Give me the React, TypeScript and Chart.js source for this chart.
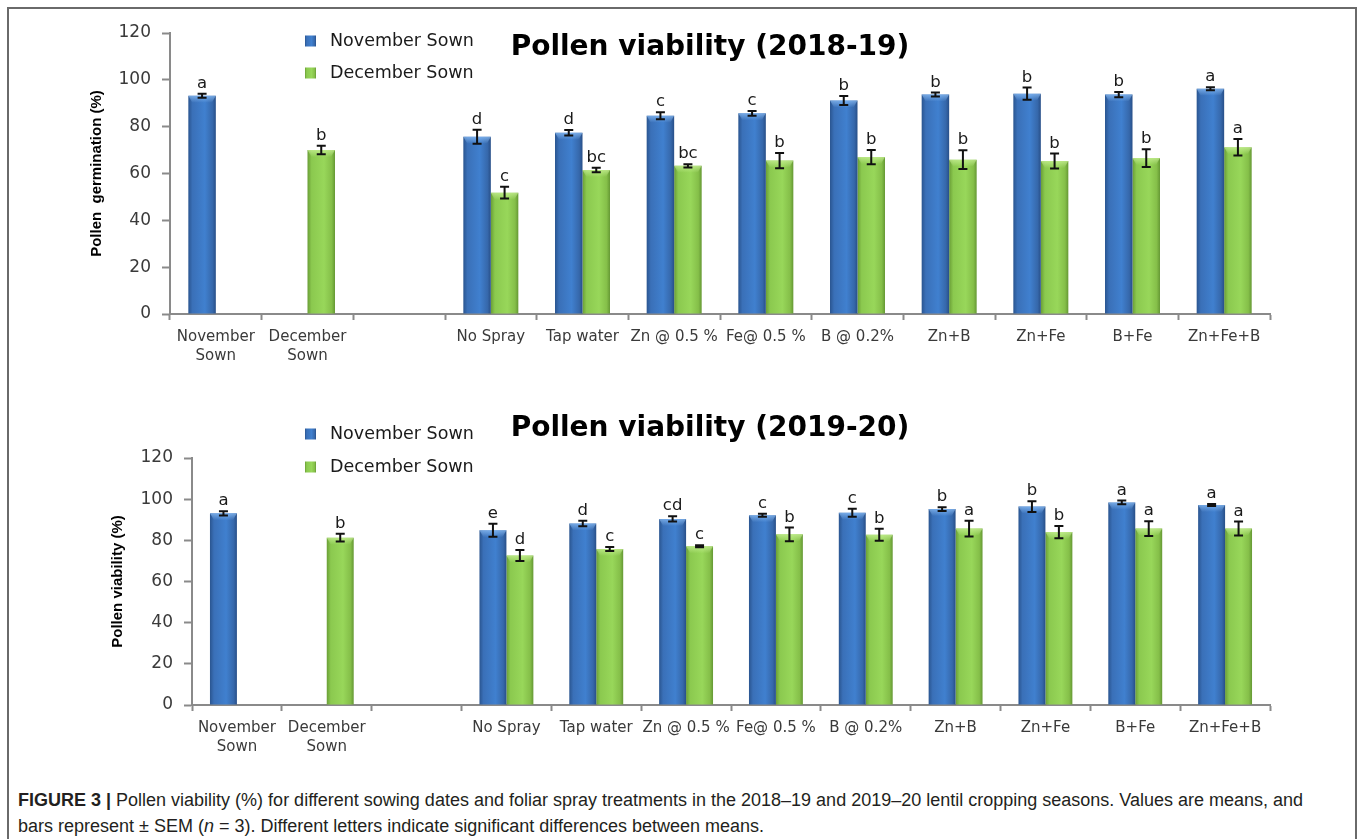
import React, { useEffect, useRef } from "react";
import { Chart, registerables } from "chart.js";

Chart.register(...registerables);

// ---------- data ----------
const categories: (string | string[])[] = [
  ["November", "Sown"],
  ["December", "Sown"],
  "",
  "No Spray",
  "Tap water",
  "Zn @ 0.5 %",
  "Fe@ 0.5 %",
  "B @ 0.2%",
  "Zn+B",
  "Zn+Fe",
  "B+Fe",
  "Zn+Fe+B",
];
const seriesNames = ["November Sown", "December Sown"];

const nov1819 = [93.2, null, null, 75.7, 77.4, 84.7, 85.7, 91.2, 93.7, 94.1, 93.7, 96.2];
const nov1819Err = [0.9, 0, 0, 3.0, 1.2, 1.5, 1.0, 1.9, 0.85, 2.6, 1.1, 0.6];
const nov1819Letters = ["a", "", "", "d", "d", "c", "c", "b", "b", "b", "b", "a"];
const dec1819 = [null, 70.0, null, 51.8, 61.5, 63.3, 65.5, 67.0, 65.9, 65.3, 66.6, 71.2];
const dec1819Err = [0, 1.8, 0, 2.5, 1.0, 0.7, 3.3, 3.0, 4.0, 3.2, 3.8, 3.5];
const dec1819Letters = ["", "b", "", "c", "bc", "bc", "b", "b", "b", "b", "b", "a"];

const nov1920 = [93.1, null, null, 84.9, 88.2, 90.4, 92.2, 93.4, 95.2, 96.4, 98.4, 97.2];
const nov1920Err = [1.0, 0, 0, 3.1, 1.3, 1.3, 0.7, 1.9, 0.9, 2.6, 0.9, 0.5];
const nov1920Letters = ["a", "", "", "e", "d", "cd", "c", "c", "b", "b", "a", "a"];
const dec1920 = [null, 81.3, null, 72.6, 75.8, 77.1, 82.9, 82.7, 85.7, 84.0, 85.7, 85.7];
const dec1920Err = [0, 1.9, 0, 2.7, 1.0, 0.5, 3.3, 2.9, 3.8, 3.0, 3.6, 3.4];
const dec1920Letters = ["", "b", "", "d", "c", "c", "b", "b", "a", "b", "a", "a"];

const yTicksMin = 0;
const yTicksMax = 120;
const yTicksStep = 20;

// ---------- styles ----------
const CAT_PCT = 0.6;
const BLUE_STOPS: [number, string][] = [
  [0, "#2a5590"],
  [0.15, "#3a70b8"],
  [0.6, "#4080cf"],
  [0.88, "#3668ab"],
  [1, "#284f88"],
];
const GREEN_STOPS: [number, string][] = [
  [0, "#6a9e36"],
  [0.15, "#8bc94f"],
  [0.6, "#98d75a"],
  [0.88, "#85bf49"],
  [1, "#659834"],
];
const AXIS_GREY = "#8a8a8a";
const TEXT_GREY = "#3a3a3a";
const SANS = '"DejaVu Sans", Verdana, sans-serif';

function barGradient(ctx: any, stops: [number, string][], dsIndex: number) {
  const chart = ctx.chart;
  const area = chart.chartArea;
  const xs = chart.scales && chart.scales.x;
  if (!area || !xs || ctx.type !== "data") return stops[2][1];
  const center = xs.getPixelForValue(ctx.dataIndex);
  const catW = (area.right - area.left) / categories.length;
  const barW = (catW * CAT_PCT) / 2;
  const left = dsIndex === 0 ? center - barW : center;
  const g = chart.ctx.createLinearGradient(left, 0, left + barW, 0);
  stops.forEach(([o, c]) => g.addColorStop(o, c));
  return g;
}

function legendGradient(ctx: CanvasRenderingContext2D, x: number, w: number, stops: [number, string][]) {
  const g = ctx.createLinearGradient(x, 0, x + w, 0);
  stops.forEach(([o, c]) => g.addColorStop(o, c));
  return g;
}

type PanelProps = {
  top: number;
  height: number;
  padLeft: number;
  padTop: number;
  padBottom: number;
  yWidth: number;
  yTitle: string;
  title: string;
  titleY: number;
  legendY: [number, number];
  nov: (number | null)[];
  novErr: number[];
  novLetters: string[];
  dec: (number | null)[];
  decErr: number[];
  decLetters: string[];
};

function Panel(p: PanelProps) {
  const ref = useRef<HTMLCanvasElement | null>(null);
  useEffect(() => {
    if (!ref.current) return;
    const errs = [p.novErr, p.decErr];
    const letters = [p.novLetters, p.decLetters];
    const overlay = {
      id: "overlay",
      afterDatasetsDraw(chart: any) {
        const ctx: CanvasRenderingContext2D = chart.ctx;
        const ys = chart.scales.y;
        ctx.save();
        [0, 1].forEach((di) => {
          const meta = chart.getDatasetMeta(di);
          const values = chart.data.datasets[di].data as (number | null)[];
          meta.data.forEach((el: any, j: number) => {
            const v = values[j];
            if (v === null || v === undefined) return;
            // light bevel on the bar top
            const half = el.width / 2;
            const capG = ctx.createLinearGradient(0, el.y, 0, el.y + 7);
            capG.addColorStop(0, di === 0 ? "rgba(140,190,245,0.75)" : "rgba(200,240,150,0.75)");
            capG.addColorStop(1, di === 0 ? "rgba(140,190,245,0)" : "rgba(200,240,150,0)");
            ctx.fillStyle = capG;
            ctx.beginPath();
            ctx.moveTo(el.x - half, el.y);
            ctx.lineTo(el.x + half, el.y);
            ctx.lineTo(el.x + half - 4, el.y + 7);
            ctx.lineTo(el.x - half + 4, el.y + 7);
            ctx.closePath();
            ctx.fill();

            const e = errs[di][j];
            const yTop = ys.getPixelForValue(v + e);
            const yBot = ys.getPixelForValue(v - e);
            const x = el.x;
            ctx.strokeStyle = "#111";
            ctx.lineWidth = 2;
            ctx.beginPath();
            ctx.moveTo(x, yTop);
            ctx.lineTo(x, yBot);
            ctx.moveTo(x - 4.5, yTop);
            ctx.lineTo(x + 4.5, yTop);
            ctx.moveTo(x - 4.5, yBot);
            ctx.lineTo(x + 4.5, yBot);
            ctx.stroke();
            const lt = letters[di][j];
            if (lt) {
              ctx.fillStyle = "#1a1a1a";
              ctx.font = `16.5px ${SANS}`;
              ctx.textAlign = "center";
              ctx.textBaseline = "alphabetic";
              ctx.fillText(lt, x, yTop - 6);
            }
          });
        });
        ctx.restore();
      },
      afterDraw(chart: any) {
        const ctx: CanvasRenderingContext2D = chart.ctx;
        ctx.save();
        // title
        ctx.fillStyle = "#000";
        ctx.font = 'bold 28px "DejaVu Sans", Verdana, sans-serif';
        ctx.textAlign = "center";
        ctx.textBaseline = "middle";
        ctx.fillText(p.title, 710, p.titleY);
        // legend
        const stopsArr = [BLUE_STOPS, GREEN_STOPS];
        seriesNames.forEach((name, i) => {
          const y = p.legendY[i];
          ctx.fillStyle = legendGradient(ctx, 305, 11, stopsArr[i]);
          ctx.fillRect(305, y - 5.5, 11, 11);
          ctx.fillStyle = "#1a1a1a";
          ctx.font = `17.5px ${SANS}`;
          ctx.textAlign = "left";
          ctx.textBaseline = "middle";
          ctx.fillText(name, 330, y);
        });
        ctx.restore();
      },
    };
    const chart = new Chart(ref.current, {
      type: "bar",
      data: {
        labels: categories,
        datasets: [
          {
            label: seriesNames[0],
            data: p.nov,
            backgroundColor: (c: any) => barGradient(c, BLUE_STOPS, 0),
            borderWidth: 0,
            categoryPercentage: CAT_PCT,
            barPercentage: 1.0,
          },
          {
            label: seriesNames[1],
            data: p.dec,
            backgroundColor: (c: any) => barGradient(c, GREEN_STOPS, 1),
            borderWidth: 0,
            categoryPercentage: CAT_PCT,
            barPercentage: 1.0,
          },
        ],
      },
      options: {
        responsive: false,
        animation: false,
        layout: {
          padding: { left: p.padLeft, right: 87, top: p.padTop, bottom: p.padBottom },
        },
        plugins: {
          legend: { display: false },
          title: { display: false },
          tooltip: { enabled: false },
        },
        scales: {
          x: {
            afterFit: (s: any) => {
              s.height = 50;
            },
            grid: {
              display: true,
              offset: true,
              drawOnChartArea: false,
              drawTicks: true,
              tickLength: 6,
              tickColor: AXIS_GREY,
              tickWidth: 2,
              color: AXIS_GREY,
            },
            border: { display: true, color: AXIS_GREY, width: 2 },
            ticks: {
              autoSkip: false,
              maxRotation: 0,
              minRotation: 0,
              padding: 8,
              color: TEXT_GREY,
              font: { family: SANS, size: 15, lineHeight: 1.25 },
            },
          },
          y: {
            min: yTicksMin,
            max: yTicksMax,
            afterFit: (s: any) => {
              s.width = p.yWidth;
            },
            ticks: {
              stepSize: yTicksStep,
              padding: 11,
              color: TEXT_GREY,
              font: { family: SANS, size: 17 },
            },
            grid: {
              display: true,
              drawOnChartArea: false,
              drawTicks: true,
              tickLength: 8,
              tickColor: AXIS_GREY,
              tickWidth: 2,
              color: AXIS_GREY,
            },
            border: { display: true, color: AXIS_GREY, width: 2 },
            title: {
              display: true,
              text: p.yTitle,
              color: "#000",
              padding: { top: 0, bottom: 0 },
              font: { family: '"Liberation Sans", Arial, sans-serif', size: 15, weight: "bold" },
            },
          },
        },
      },
      plugins: [overlay],
    } as any);
    return () => chart.destroy();
  }, []);
  return (
    <canvas
      ref={ref}
      width={1357}
      height={p.height}
      style={{ position: "absolute", left: 0, top: p.top, width: 1357, height: p.height }}
    />
  );
}

export default function App() {
  return (
    <div
      style={{
        position: "fixed",
        left: 0,
        top: 0,
        width: 1357,
        height: 839,
        overflow: "hidden",
        background: "#fff",
      }}
    >
      <div
        style={{
          position: "absolute",
          left: 7,
          top: 7,
          width: 1350,
          height: 860,
          boxSizing: "border-box",
          border: "2px solid #6a6a6a",
        }}
      />
      <Panel
        top={0}
        height={380}
        padLeft={88}
        padTop={33}
        padBottom={16}
        yWidth={82}
        yTitle="Pollen  germination (%)"
        title="Pollen viability (2018-19)"
        titleY={48}
        legendY={[41, 73]}
        nov={nov1819}
        novErr={nov1819Err}
        novLetters={nov1819Letters}
        dec={dec1819}
        decErr={dec1819Err}
        decLetters={dec1819Letters}
      />
      <Panel
        top={390}
        height={380}
        padLeft={109}
        padTop={68}
        padBottom={15}
        yWidth={83}
        yTitle="Pollen viability (%)"
        title="Pollen viability (2019-20)"
        titleY={39}
        legendY={[44, 77]}
        nov={nov1920}
        novErr={nov1920Err}
        novLetters={nov1920Letters}
        dec={dec1920}
        decErr={dec1920Err}
        decLetters={dec1920Letters}
      />
      <div
        style={{
          position: "absolute",
          left: 18,
          top: 787,
          fontFamily: '"Liberation Sans", Arial, Helvetica, sans-serif',
          fontSize: 18,
          lineHeight: "26px",
          color: "#231f20",
          whiteSpace: "nowrap",
        }}
      >
        <div>
          <b>FIGURE 3 |</b> Pollen viability (%) for different sowing dates and foliar spray treatments in the
          2018–19 and 2019–20 lentil cropping seasons. Values are means, and
        </div>
        <div>
          bars represent ± SEM (<i>n</i> = 3). Different letters indicate significant differences between means.
        </div>
      </div>
    </div>
  );
}
